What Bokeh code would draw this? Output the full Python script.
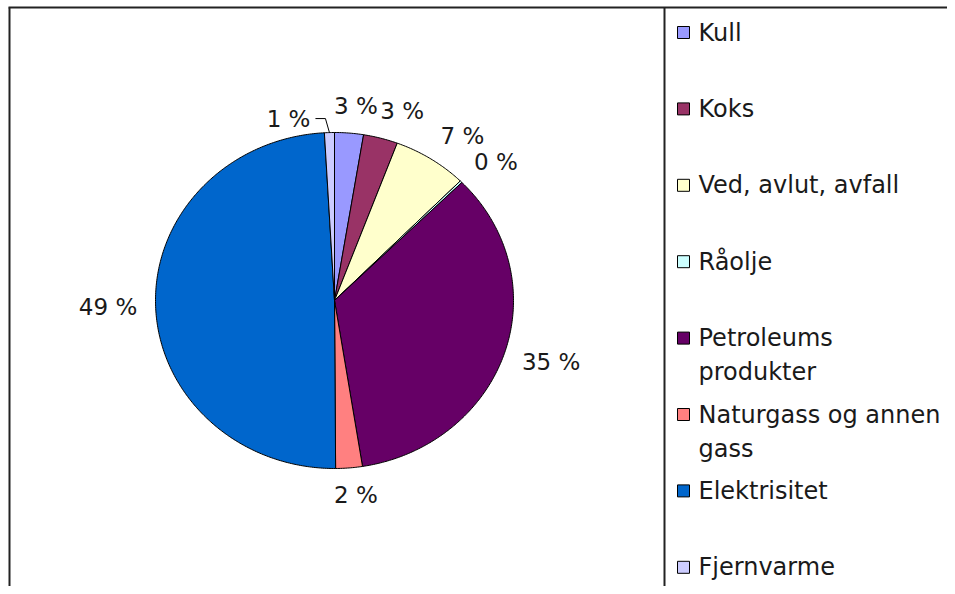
import numpy as np
from bokeh.plotting import figure
from bokeh.models import ColumnDataSource, Range1d
from bokeh.embed import file_html
from bokeh.resources import INLINE
from bokeh.core.properties import value

# ---- data ----
categories = ["Kull", "Koks", "Ved, avlut, avfall", "Råolje",
              "Petroleums\nprodukter", "Naturgass og annen\ngass",
              "Elektrisitet", "Fjernvarme"]
shares = [2.6, 3.1, 6.7, 0.2, 34.9, 2.4, 49.2, 0.9]
colors = ["#9999FF", "#993366", "#FFFFCC", "#CCFFFF",
          "#660066", "#FF8080", "#0066CC", "#CCCCFF"]
leader = [False, False, False, False, False, False, False, True]

# ---- layout (page pixel coordinates) ----
W, H = 947, 586
CX, CY = 334, 300
RX, RY = 179, 168
D = 19
LBL_FS = 23
LEG_FS = 24
FONT = "DejaVu Sans"
TXT = "#1a1a1a"

p = figure(width=W, height=H, output_backend="svg", toolbar_location=None,
           x_range=Range1d(0, W), y_range=Range1d(-H, 0), min_border=0)
p.axis.visible = False
p.grid.visible = False
p.outline_line_color = None
p.background_fill_color = "white"
p.border_fill_color = "white"

# ---- pie slices ----
xs, ys = [], []
total = float(sum(shares))
cum = 0.0
mids = []
for s in shares:
    t0 = 2 * np.pi * cum / total
    t1 = 2 * np.pi * (cum + s) / total
    ts = np.linspace(t0, t1, max(3, int(s * 6) + 3))
    px = CX + RX * np.sin(ts)
    py = -(CY - RY * np.cos(ts))
    xs.append([CX] + list(px))
    ys.append([-CY] + list(py))
    mids.append((t0 + t1) / 2)
    cum += s

p.patches(xs="xs", ys="ys", fill_color="color", line_color="black", line_width=1,
          source=ColumnDataSource(dict(xs=xs, ys=ys, color=colors)))

# ---- data labels ----
lx, ly, lt, rx_, ry_, rt = [], [], [], [], [], []
for s, tm, ld in zip(shares, mids, leader):
    lbl = f"{int(round(s))} %"
    sn, cs = np.sin(tm), np.cos(tm)
    if ld:
        ex, ey = CX + RX * sn, CY - RY * cs
        bx, by = ex - 4, ey - 14
        fx, fy = bx - 10, by
        p.line([ex, bx, fx], [-ey, -by, -fy], line_color="black", line_width=1)
        rx_.append(fx - 5)
        ry_.append(-fy)
        rt.append(lbl)
    else:
        half_w = len(lbl) * 0.62 * LBL_FS / 2
        h = LBL_FS * 0.75
        x = CX + (RX + D) * sn + np.sign(sn) * half_w * min(1.0, 3 * abs(sn))
        y = CY - (RY + D) * cs - cs * h / 2
        lx.append(x)
        ly.append(-y)
        lt.append(lbl)

p.text(x=lx, y=ly, text=lt, text_align="center", text_baseline="middle",
       text_font=value(FONT), text_font_size=f"{LBL_FS}px", text_color=TXT)
p.text(x=rx_, y=ry_, text=rt, text_align="right", text_baseline="middle",
       text_font=value(FONT), text_font_size=f"{LBL_FS}px", text_color=TXT)

# ---- legend ----
SEP_X = 664
LEG_Y0, LEG_DY, LINE_DY = 32, 76.4, 34
sq_x, sq_y = [], []
tx, ty, tt = [], [], []
for i, cat in enumerate(categories):
    yc = LEG_Y0 + i * LEG_DY
    sq_x.append(683)
    sq_y.append(-yc)
    for j, line in enumerate(cat.split("\n")):
        tx.append(698)
        ty.append(-(yc + j * LINE_DY))
        tt.append(line)

p.rect(x=sq_x, y=sq_y, width=12, height=12, fill_color=colors,
       line_color="black", line_width=1)
p.text(x=tx, y=ty, text=tt, text_align="left", text_baseline="middle",
       text_font=value(FONT), text_font_size=f"{LEG_FS}px", text_color=TXT)

# ---- chart frame ----
p.segment(x0=[8, 9, SEP_X], y0=[-7, -7, -7],
          x1=[W, 9, SEP_X], y1=[-7, -H, -H],
          line_color="#222222", line_width=2)

open("out.html", "w").write(file_html(p, INLINE))
